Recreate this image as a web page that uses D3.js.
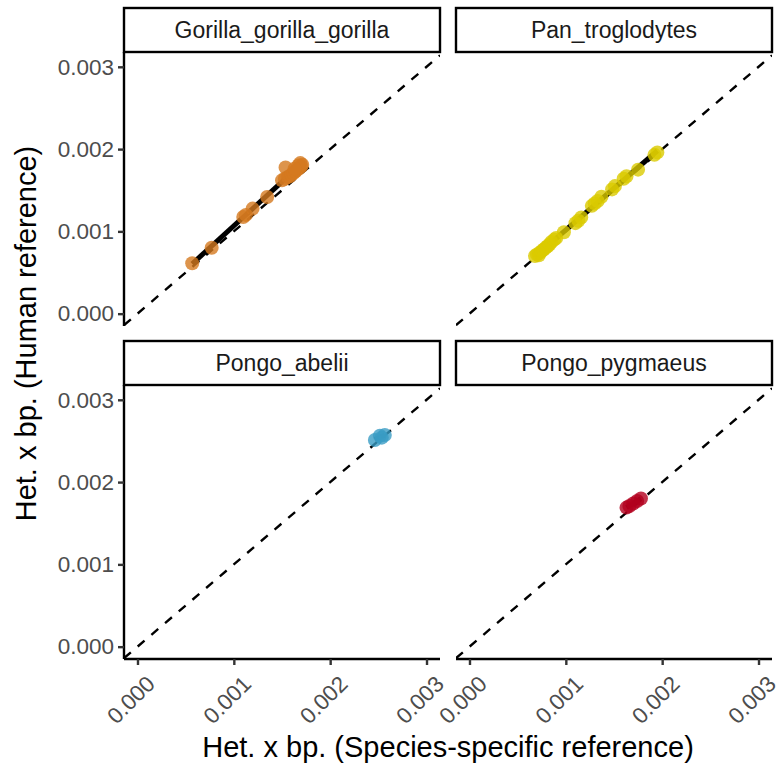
<!DOCTYPE html>
<html>
<head>
<meta charset="utf-8">
<script src="https://cdn.jsdelivr.net/npm/d3@7"></script>
<style>
	body { margin: 0; background: #fff; }
	text { font-family: "Liberation Sans", Arial, Helvetica, sans-serif; }
</style>
</head>
<body>
<div id="chart"></div>
<script>
// facet names and point colours
var species = ['Gorilla_gorilla_gorilla', 'Pan_troglodytes', 'Pongo_abelii', 'Pongo_pygmaeus'];
var speciesColors = ['#d4791f', '#dbcb00', '#3a9cc4', '#b3001e'];

// het per bp, species-specific reference (x) vs human reference (y)
var gorillaX = [0.000568, 0.000770, 0.001098, 0.001125, 0.001195, 0.001346, 0.001537,
	0.00150, 0.00153, 0.00156, 0.00158, 0.00160, 0.00162, 0.00164, 0.00166, 0.00168,
	0.00170, 0.00171, 0.00169, 0.00167, 0.00163];
var gorillaY = [0.000613, 0.000801, 0.001174, 0.001200, 0.001277, 0.001418, 0.001777,
	0.00162, 0.00164, 0.00166, 0.00167, 0.00169, 0.00171, 0.00173, 0.00175, 0.00177,
	0.00179, 0.00181, 0.00183, 0.00180, 0.00176];

var panX = [0.00068, 0.00070, 0.00072, 0.00073, 0.00075, 0.00077, 0.00079, 0.00081,
	0.00083, 0.00085, 0.00088, 0.00090, 0.00098, 0.00110, 0.00113, 0.00116, 0.00127,
	0.00130, 0.00133, 0.00137, 0.00148, 0.00151, 0.00160, 0.00163, 0.00175, 0.00192, 0.00195];
var panY = [0.00070, 0.00072, 0.00071, 0.00074, 0.00076, 0.00078, 0.00080, 0.00082,
	0.00084, 0.00087, 0.00090, 0.00092, 0.00099, 0.00110, 0.00113, 0.00117, 0.00131,
	0.00134, 0.00137, 0.00142, 0.00151, 0.00155, 0.00164, 0.00167, 0.00175, 0.00193, 0.00196];

var abeliiX = [0.002464, 0.002516, 0.002536, 0.002567];
var abeliiY = [0.002512, 0.002564, 0.002540, 0.002572];

var pygmaeusX = [0.00163, 0.00166, 0.00170, 0.00174, 0.00178];
var pygmaeusY = [0.00169, 0.00171, 0.00174, 0.00177, 0.00180];

var tickValues = [0, 0.001, 0.002, 0.003];
var xTitle = 'Het. x bp. (Species-specific reference)';
var yTitle = 'Het. x bp. (Human reference)';

var seriesX = [gorillaX, panX, abeliiX, pygmaeusX];
var seriesY = [gorillaY, panY, abeliiY, pygmaeusY];

var width = 783, height = 769;
var panelLeft = [124, 456];
var panelTop = [52, 385];
var panelW = 316, panelH = 274;
var stripH = 44;

var svg = d3.select('#chart').append('svg')
	.attr('width', width).attr('height', height);

var x = d3.scaleLinear().domain([-0.00014, 0.00314]).range([0, panelW]);
var y = d3.scaleLinear().domain([-0.00015, 0.00318]).range([panelH, 0]);
var fmt = d3.format('.3f');

species.forEach(function(name, i){
	var col = i % 2, row = Math.floor(i / 2);
	var g = svg.append('g')
		.attr('transform', 'translate(' + [panelLeft[col], panelTop[row]] + ')');

	g.append('clipPath').attr('id', 'clip' + i)
		.append('rect').attr('width', panelW).attr('height', panelH);

	var plot = g.append('g').attr('clip-path', 'url(#clip' + i + ')');

	// y = x reference line
	var lo = x.domain()[0], hi = x.domain()[1];
	plot.append('line')
		.attr('x1', x(lo)).attr('y1', y(lo))
		.attr('x2', x(hi)).attr('y2', y(hi))
		.attr('stroke', 'black')
		.attr('stroke-width', 2.4)
		.attr('stroke-dasharray', '9,9');

	var pts = seriesX[i].map(function(v, j){ return {x: v, y: seriesY[i][j]}; });

	// least squares fit drawn over the data range
	var mx = d3.mean(pts, function(d){ return d.x; });
	var my = d3.mean(pts, function(d){ return d.y; });
	var sxy = d3.sum(pts, function(d){ return (d.x - mx) * (d.y - my); });
	var sxx = d3.sum(pts, function(d){ return (d.x - mx) * (d.x - mx); });
	var slope = sxy / sxx, icpt = my - slope * mx;
	var ext = d3.extent(pts, function(d){ return d.x; });
	plot.append('line')
		.attr('x1', x(ext[0])).attr('y1', y(icpt + slope * ext[0]))
		.attr('x2', x(ext[1])).attr('y2', y(icpt + slope * ext[1]))
		.attr('stroke', 'black')
		.attr('stroke-width', 5);

	plot.selectAll('circle').data(pts).enter().append('circle')
		.attr('cx', function(d){ return x(d.x); })
		.attr('cy', function(d){ return y(d.y); })
		.attr('r', 7)
		.attr('fill', speciesColors[i])
		.attr('fill-opacity', 0.8);

	// strip
	g.append('rect')
		.attr('x', 0).attr('y', -stripH)
		.attr('width', panelW).attr('height', stripH)
		.attr('fill', 'white')
		.attr('stroke', 'black')
		.attr('stroke-width', 2.4);
	g.append('text')
		.attr('x', panelW / 2).attr('y', -stripH / 2)
		.attr('text-anchor', 'middle')
		.attr('dominant-baseline', 'central')
		.attr('font-size', 23)
		.attr('fill', '#1a1a1a')
		.text(name);

	if (col === 0) {
		var ya = g.append('g')
			.call(d3.axisLeft(y).tickValues(tickValues).tickFormat(fmt).tickSize(6).tickPadding(4));
		ya.select('.domain').attr('stroke-width', 2.4).attr('d', 'M0,0V' + panelH);
		ya.selectAll('.tick line').attr('stroke-width', 2.4).attr('stroke', '#333');
		ya.selectAll('.tick text').attr('font-size', 22.5).attr('fill', '#4d4d4d')
			.attr('font-family', '"Liberation Sans", Arial, sans-serif');
	}
	if (row === 1) {
		var xa = g.append('g')
			.attr('transform', 'translate(0,' + panelH + ')')
			.call(d3.axisBottom(x).tickValues(tickValues).tickFormat(fmt).tickSize(6));
		xa.select('.domain').attr('stroke-width', 2.4).attr('d', 'M0,0H' + panelW);
		xa.selectAll('.tick line').attr('stroke-width', 2.4).attr('stroke', '#333');
		xa.selectAll('.tick text')
			.attr('font-size', 22.5).attr('fill', '#4d4d4d')
			.attr('font-family', '"Liberation Sans", Arial, sans-serif')
			.attr('text-anchor', 'end')
			.attr('dy', null)
			.attr('transform', 'translate(7,15) rotate(-45)')
			.attr('y', 0).attr('x', 0)
			.attr('dominant-baseline', 'hanging');
	}
});

svg.append('text')
	.attr('x', (panelLeft[0] + panelLeft[1] + panelW) / 2)
	.attr('y', 757)
	.attr('text-anchor', 'middle')
	.attr('font-size', 29)
	.attr('fill', 'black')
	.text(xTitle);

svg.append('text')
	.attr('transform', 'translate(36,' + ((panelTop[0] - stripH + panelTop[1] + panelH) / 2) + ') rotate(-90)')
	.attr('text-anchor', 'middle')
	.attr('font-size', 29)
	.attr('fill', 'black')
	.text(yTitle);
</script>
</body>
</html>
